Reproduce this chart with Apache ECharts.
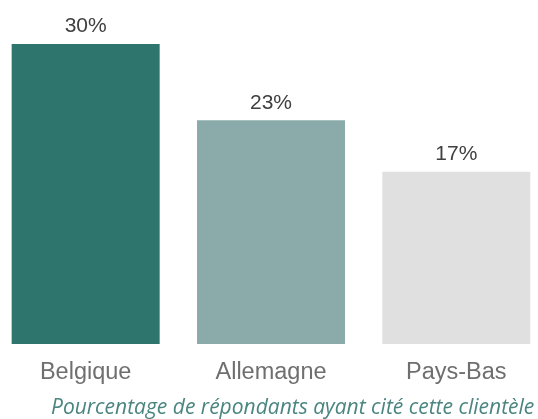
<!DOCTYPE html>
<html>
<head>
<meta charset="utf-8">
<script src="https://cdn.jsdelivr.net/npm/echarts@6/dist/echarts.min.js"></script>
<style>
html,body{margin:0;padding:0;background:#fff;}
#main{width:538px;height:419px;}
</style>
</head>
<body>
<div id="main"></div>
<script>
const categories = ['Belgique', 'Allemagne', 'Pays-Bas'];
const values = [30.3, 22.6, 17.4];
const barColors = ['#2E756E', '#8AABA9', '#E0E0E0'];
const subtitle = 'Pourcentage de répondants ayant cité cette clientèle';

const chart = echarts.init(document.getElementById('main'), null, {renderer: 'canvas'});
chart.setOption({
  animation: false,
  backgroundColor: '#ffffff',
  title: {
    text: subtitle,
    left: 46,
    top: 393,
    textStyle: {
      fontFamily: 'Open Sans',
      fontStyle: 'italic',
      fontWeight: 'normal',
      fontSize: 21,
      color: '#4A8580'
    }
  },
  grid: { left: -7, right: -11, top: 44, bottom: 75, containLabel: false, outerBoundsMode: 'none' },
  xAxis: {
    type: 'category',
    data: categories,
    axisLine: { show: false },
    axisTick: { show: false },
    axisLabel: {
      margin: 17,
      fontFamily: 'Liberation Sans, Arial, sans-serif',
      fontSize: 23.5,
      color: '#6F6F6F'
    }
  },
  yAxis: {
    type: 'value',
    min: 0,
    max: 30.3,
    show: false,
    splitLine: { show: false }
  },
  series: [{
    type: 'bar',
    barWidth: 148,
    data: values.map((v, i) => ({ value: v, itemStyle: { color: barColors[i] } })),
    label: {
      show: true,
      position: 'top',
      distance: 7,
      formatter: p => Math.round(p.value) + '%',
      fontFamily: 'Liberation Sans, Arial, sans-serif',
      fontSize: 21,
      color: '#404040'
    }
  }]
});
</script>
</body>
</html>
